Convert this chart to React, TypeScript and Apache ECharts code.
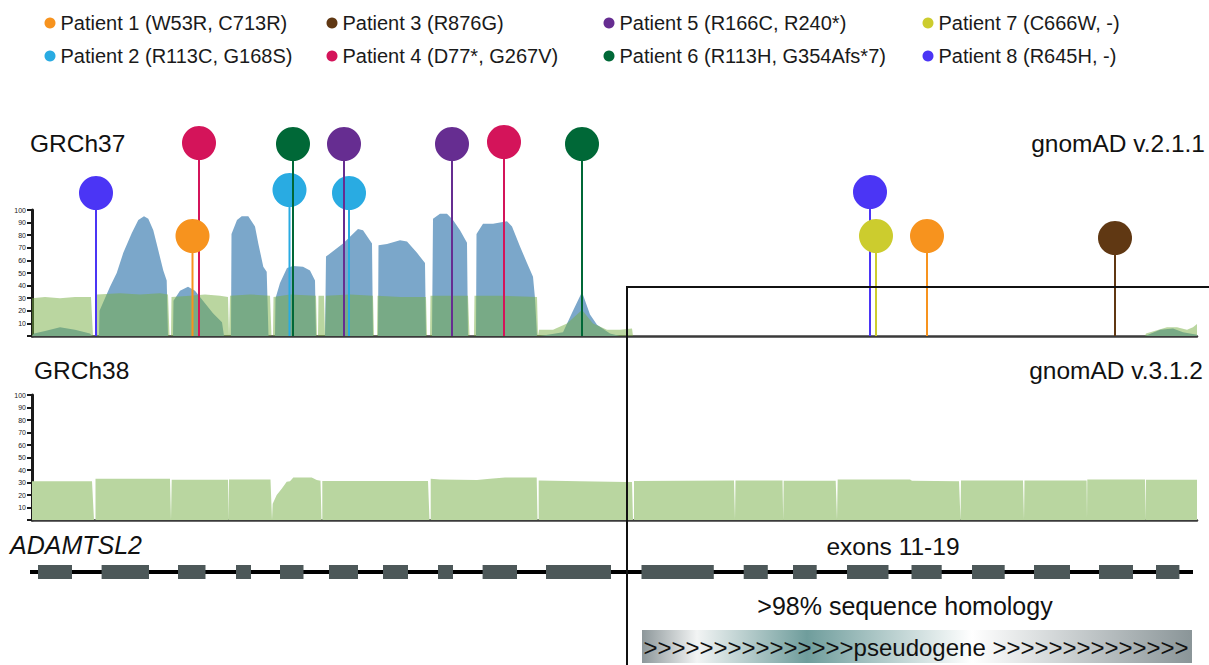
import React, { useEffect, useRef } from 'react';
import * as echarts from 'echarts';

const FONT = "'Liberation Sans', Arial, Helvetica, sans-serif";

// ---- Legend / patients ----
const patientLabels = [
  'Patient 1 (W53R, C713R)',
  'Patient 2 (R113C, G168S)',
  'Patient 3 (R876G)',
  'Patient 4 (D77*, G267V)',
  'Patient 5 (R166C, R240*)',
  'Patient 6 (R113H, G354Afs*7)',
  'Patient 7 (C666W, -)',
  'Patient 8 (R645H, -)',
];
const patientColors = ['#f7931e', '#29abe2', '#603813', '#d4145a', '#662d91', '#006837', '#cccc2e', '#4b35f5'];
// variant positions along the gene (same units as coverage x axis) and lollipop heights (coverage-axis units)
const variantPositions = [[192.5, 927], [289.5, 349], [1115], [199, 504], [344, 452], [293, 582], [876], [96, 870]];
const variantHeights = [[79.4, 79.4], [115.9, 113.5], [77.8], [153.2, 154], [152.4, 152.4], [152.4, 152.4], [79.4], [113.5, 114.3]];
const drawOrder = [1, 2, 3, 4, 5, 0, 7, 6];
const legendCol = [0, 0, 1, 1, 2, 2, 3, 3];
const legendRow = [0, 1, 0, 1, 0, 1, 0, 1];
const legendColX = [50, 332, 609, 928];
const legendRowY = [13, 46];

// ---- Coverage, GRCh37 / gnomAD v2.1.1 (exome: blue, genome: green) ----
const coverageExomeV2 = [
  [32, 0], [34, 2], [45, 4], [60, 7], [75, 5], [90, 2], [92, 0],
  [99, 0], [99.5, 20], [110, 39], [116.7, 50], [123.3, 66], [131.7, 81.5], [138.3, 92], [144, 95], [148.3, 93], [153.3, 84], [158.3, 68], [163.3, 52], [166.7, 44], [168, 0],
  [173, 0], [173.5, 28], [180, 36], [188, 39], [195, 36], [203, 28], [213, 18], [222, 11], [224, 0],
  [231, 0], [231.5, 81], [237, 92], [241.7, 95], [248.3, 95], [255, 87], [258.3, 73.5], [263.3, 55], [266.7, 51], [268.5, 0],
  [275, 0], [275.5, 30], [280, 42], [287, 54], [293, 55.5], [303, 55], [310, 52], [315, 44], [316, 0],
  [325, 0], [326, 63], [343, 73.5], [358, 85], [363, 84], [372, 73.5], [373, 0],
  [378, 0], [378.5, 72], [387, 73], [400, 76], [407, 75], [417, 66], [425, 58], [426, 0],
  [432, 0], [433, 93], [440, 97], [447, 97], [453, 92], [460, 84], [467, 74], [468, 0],
  [476, 0], [476.5, 81], [483, 89], [493, 89], [507, 91], [512, 87], [520, 71], [527, 58], [533, 47], [535, 30], [537, 0],
  [540, 0], [563, 3], [573, 20], [582, 35], [590, 17], [597, 9], [610, 2], [620, 0],
  [1145, 0], [1160, 5], [1173, 6], [1183, 3], [1197, 1],
];
const coverageGenomeV2 = [
  [32, 30], [45, 31], [60, 30], [75, 31], [91, 31], [93, 0], [96, 0],
  [97, 33], [120, 34], [140, 33], [160, 34], [168, 33], [169.5, 0], [171, 0],
  [171.5, 31], [190, 32], [205, 33], [220, 32], [228, 31], [229, 0], [229.5, 0],
  [230, 32], [250, 33], [270, 32], [271.5, 0], [273, 0],
  [273.5, 31], [290, 33], [316, 32], [317, 0], [318, 0], [318.5, 32], [324, 32], [325, 0], [325.5, 0],
  [326, 32], [350, 33], [373, 32], [374, 0], [377, 0],
  [377.5, 32], [400, 31], [426, 31], [427, 0], [430, 0],
  [430.5, 32], [450, 32], [468, 32], [469.5, 0], [474, 0],
  [474.5, 32], [500, 32], [537, 31], [538, 0], [538.5, 0],
  [539, 5], [553, 5], [567, 10], [582, 20.6], [593, 10], [607, 5], [620, 5], [632, 6], [633, 0],
  [1145, 0], [1146, 2], [1167, 7], [1177, 7], [1187, 5], [1193, 7], [1197, 9.5],
];

// ---- Coverage, GRCh38 / gnomAD v3.1.2 ----
const coverageGenomeV3 = [
  [32, 31], [92, 31], [94, 0], [95.5, 0], [95.5, 33], [170, 33], [171, 0], [171.7, 0],
  [171.7, 32.3], [228, 32.3], [228.6, 0], [229, 0], [229, 32.5], [270.5, 32.5], [272, 0], [272.7, 0],
  [272.7, 13], [276.7, 20], [281.7, 25], [286.7, 30.7], [290, 31], [293.3, 34], [311.7, 34], [316.7, 32], [320.5, 31.5], [321.5, 0], [322.3, 0],
  [322.3, 31.2], [428, 31.2], [429.5, 0], [430.7, 0],
  [430.7, 33], [440, 32.5], [477, 32], [490, 33], [505, 34], [536.7, 34], [537.5, 0], [538.7, 0],
  [538.7, 31.7], [580, 31], [626, 30.4], [632, 30.4], [633, 0], [634, 0],
  [634, 31.2], [734, 31.7], [735, 0], [735.5, 0],
  [735.5, 31.7], [782.5, 31.7], [783.2, 0], [783.7, 0],
  [783.7, 31.5], [835.7, 31.5], [837, 0], [837.7, 0],
  [837.7, 32.5], [910, 32.5], [912, 31.5], [959, 31], [960.5, 0], [961, 0],
  [961, 31.6], [1023, 31.6], [1024, 0], [1024.5, 0],
  [1024.5, 31.7], [1086.6, 31.7], [1087, 0], [1087.3, 0],
  [1087.3, 32.5], [1145, 32.5], [1145.7, 0], [1146, 0],
  [1146, 32.3], [1197, 32.3],
];

// ---- Gene model ----
const geneSpan = [25, 1193];
const exonRanges = [
  [38, 72], [101.6, 149], [178, 205.5], [236, 251], [280, 303.5], [329, 358], [383, 408], [438, 453], [482.6, 517], [546, 611],
  [641.5, 713.8], [743.7, 767.8], [793, 816.7], [847, 888.5], [911.5, 941.7], [972, 1004.7], [1034, 1070], [1099, 1133], [1156, 1179.4],
];
const yTicks = { min: 0, max: 100, interval: 10 };

function buildOption(): any {
  const xAxis = [0, 1, 2].map((i) => ({
    type: 'value',
    gridIndex: i,
    min: 32,
    max: 1197,
    show: i < 2,
    axisLine: { show: true, onZero: true, lineStyle: { color: '#3a3a3a', width: 2.5 } },
    axisTick: { show: false },
    axisLabel: { show: false },
    splitLine: { show: false },
  }));
  const yAxis: any[] = [0, 1].map((i) => ({
    type: 'value',
    gridIndex: i,
    min: yTicks.min,
    max: yTicks.max,
    interval: yTicks.interval,
    axisLine: { show: true, lineStyle: { color: '#1a1a1a', width: 3 } },
    axisTick: { show: true, length: 5, lineStyle: { color: '#1a1a1a', width: 2 } },
    axisLabel: {
      fontSize: 7,
      color: '#222',
      margin: 6,
      fontFamily: FONT,
      formatter: (v: number) => (v === 0 ? '' : String(v)),
    },
    splitLine: { show: false },
  }));
  yAxis.push({ type: 'value', gridIndex: 2, min: 0, max: 1, show: false });

  const series: any[] = [
    {
      type: 'line',
      name: 'exome v2',
      xAxisIndex: 0,
      yAxisIndex: 0,
      data: coverageExomeV2,
      symbol: 'none',
      lineStyle: { width: 0 },
      areaStyle: { color: '#7ba7ca', opacity: 1 },
      z: 1,
      silent: true,
    },
    {
      type: 'line',
      name: 'genome v2',
      xAxisIndex: 0,
      yAxisIndex: 0,
      data: coverageGenomeV2,
      symbol: 'none',
      lineStyle: { width: 0 },
      areaStyle: { color: 'rgb(117,173,65)', opacity: 0.5 },
      z: 1,
      silent: true,
    },
    {
      type: 'line',
      name: 'genome v3',
      xAxisIndex: 1,
      yAxisIndex: 1,
      data: coverageGenomeV3,
      symbol: 'none',
      lineStyle: { width: 0 },
      areaStyle: { color: '#b9d6a0', opacity: 1 },
      z: 1,
      silent: true,
    },
    {
      type: 'line',
      name: 'gene',
      xAxisIndex: 2,
      yAxisIndex: 2,
      data: [[geneSpan[0], 0.5], [geneSpan[1], 0.5]],
      symbol: 'none',
      clip: false,
      lineStyle: { width: 4, color: '#000' },
      z: 2,
      silent: true,
    },
    {
      type: 'custom',
      name: 'exons',
      xAxisIndex: 2,
      yAxisIndex: 2,
      data: exonRanges,
      clip: false,
      z: 3,
      silent: true,
      renderItem: (params: any, api: any) => {
        const s = api.coord([api.value(0), 0]);
        const e = api.coord([api.value(1), 1]);
        return {
          type: 'rect',
          shape: { x: s[0], y: e[1], width: e[0] - s[0], height: s[1] - e[1] },
          style: { fill: '#4d5859' },
        };
      },
    },
  ];

  drawOrder.forEach((p) => {
    const color = patientColors[p];
    series.push({
      type: 'custom',
      name: patientLabels[p],
      xAxisIndex: 0,
      yAxisIndex: 0,
      clip: false,
      z: 5,
      itemStyle: { color },
      data: variantPositions[p].map((x, k) => [x, variantHeights[p][k]]),
      renderItem: (params: any, api: any) => {
        const top = api.coord([api.value(0), api.value(1)]);
        const base = api.coord([api.value(0), 0]);
        return {
          type: 'group',
          children: [
            { type: 'line', shape: { x1: top[0], y1: top[1], x2: base[0], y2: base[1] }, style: { stroke: color, lineWidth: 2 } },
            { type: 'circle', shape: { cx: top[0], cy: top[1], r: 17 }, style: { fill: color } },
          ],
        };
      },
    });
  });

  const legend = patientLabels.map((label, i) => ({
    data: [label],
    left: legendColX[legendCol[i]] - 5.5,
    top: legendRowY[legendRow[i]],
    padding: 0,
    icon: 'circle',
    itemWidth: 11,
    itemHeight: 11,
    selectedMode: false,
    textStyle: { fontSize: 20, color: '#1a1a1a', fontFamily: FONT },
  }));

  const txt = (text: string, x: number, y: number, align: string, extra: any = {}) => ({
    type: 'text',
    z: 100,
    style: {
      text,
      x,
      y,
      fill: '#111',
      fontSize: 24.5,
      fontFamily: FONT,
      align,
      verticalAlign: 'middle',
      ...extra,
    },
  });

  const graphic = [
    txt('GRCh37', 30, 143, 'left'),
    txt('gnomAD v.2.1.1', 1205, 143, 'right'),
    txt('GRCh38', 34, 370, 'left'),
    txt('gnomAD v.3.1.2', 1203, 370, 'right'),
    txt('ADAMTSL2', 10, 545, 'left', { fontStyle: 'italic', fontSize: 25 }),
    txt('exons 11-19', 893, 546, 'center'),
    txt('>98% sequence homology', 905, 606, 'center', { fontSize: 25 }),
    {
      type: 'rect',
      z: 99,
      shape: { x: 642, y: 630, width: 550, height: 33 },
      style: {
        fill: {
          type: 'linear', x: 0, y: 0, x2: 1, y2: 0,
          colorStops: [
            { offset: 0, color: '#8d979a' },
            { offset: 0.1, color: '#f2f4f4' },
            { offset: 0.3, color: '#6f9d9c' },
            { offset: 0.6, color: '#ffffff' },
            { offset: 1, color: '#8a9598' },
          ],
        },
      },
    },
    txt('>>>>>>>>>>>>>>>pseudogene >>>>>>>>>>>>>>', 916, 647, 'center', { fontSize: 24 }),
    { type: 'line', z: 100, shape: { x1: 627, y1: 286, x2: 627, y2: 665 }, style: { stroke: '#111', lineWidth: 2 } },
    { type: 'line', z: 100, shape: { x1: 626, y1: 287, x2: 1209, y2: 287 }, style: { stroke: '#111', lineWidth: 2 } },
  ];

  return {
    animation: false,
    textStyle: { fontFamily: FONT },
    grid: [
      { left: 32, top: 210, width: 1165, height: 126 },
      { left: 32, top: 395, width: 1165, height: 125 },
      { left: 32, top: 565, width: 1165, height: 14 },
    ],
    xAxis,
    yAxis,
    legend,
    series,
    graphic,
  };
}

export default function App() {
  const ref = useRef<HTMLDivElement>(null);
  useEffect(() => {
    const chart = echarts.init(ref.current!, null, { renderer: 'svg' });
    chart.setOption(buildOption());
    return () => chart.dispose();
  }, []);
  return <div ref={ref} style={{ position: 'absolute', left: 0, top: 0, width: 1209, height: 665 }} />;
}
